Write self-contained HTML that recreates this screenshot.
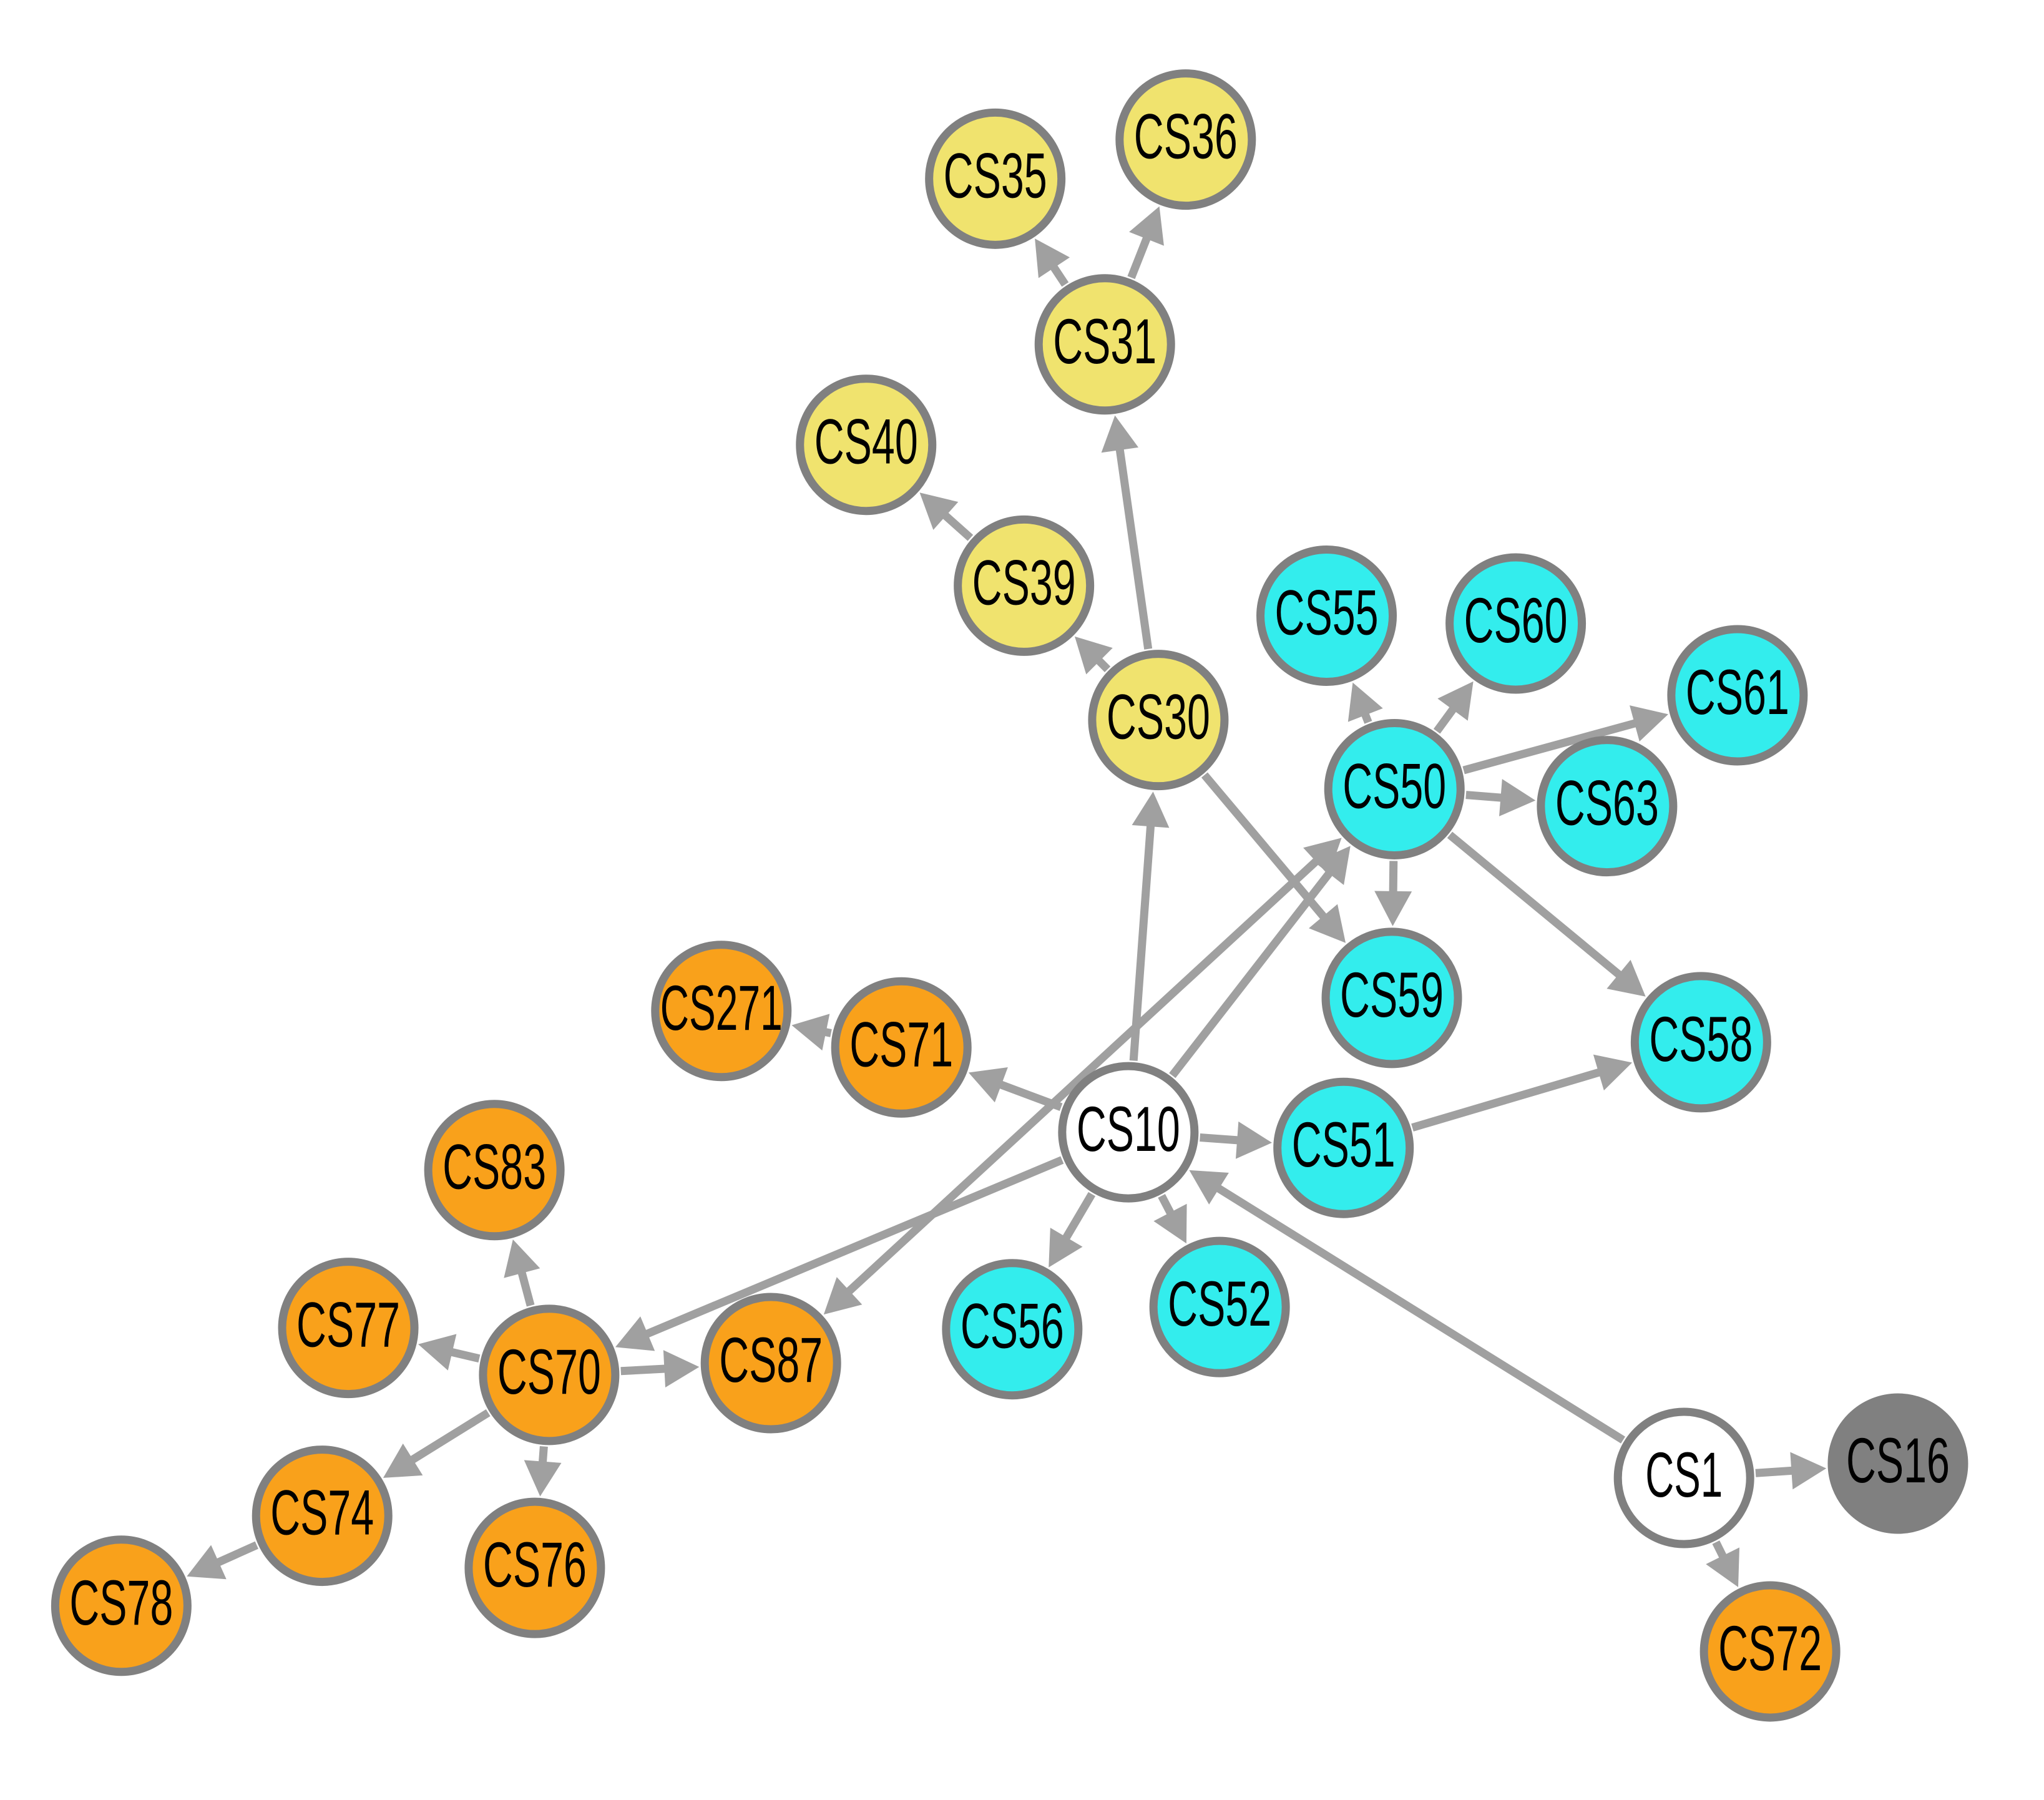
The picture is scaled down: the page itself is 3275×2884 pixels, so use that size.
<!DOCTYPE html>
<html><head><meta charset="utf-8"><style>html,body{margin:0;padding:0;background:#fff}svg{display:block}</style></head>
<body>
<svg id="s" width="3275" height="2884" viewBox="0 0 3275 2884" xmlns="http://www.w3.org/2000/svg"></svg>
<script>
var S=2.09;
var N={
CS35:[763,137,'y'],CS36:[909,107,'y'],CS31:[847,264,'y'],CS40:[664,341,'y'],CS39:[785,449,'y'],CS30:[888,552,'y'],
CS55:[1017,472,'c'],CS60:[1162,478,'c'],CS61:[1332,533,'c'],CS50:[1069,605,'c'],CS63:[1232,618,'c'],CS59:[1067,765,'c'],CS58:[1304,799,'c'],
CS271:[553,775,'o'],CS71:[691,803,'o'],CS10:[865,868,'w'],CS51:[1030,880,'c'],CS83:[379,897,'o'],CS77:[267,1018,'o'],CS70:[421,1054,'o'],
CS87:[591,1045,'o'],CS56:[776,1019,'c'],CS52:[935,1002,'c'],CS74:[247,1162,'o'],CS76:[410,1202,'o'],CS78:[93,1231,'o'],
CS1:[1291,1133,'w'],CS16:[1455,1122,'g'],CS72:[1357,1266,'o']};
var E=[['CS31','CS35'],['CS31','CS36'],['CS30','CS31'],['CS39','CS40'],['CS30','CS39'],['CS10','CS30'],['CS30','CS59'],
['CS50','CS55'],['CS50','CS60'],['CS50','CS61'],['CS50','CS63'],['CS50','CS59'],['CS50','CS58'],['CS10','CS50'],
['CS50','CS87',1],['CS71','CS271'],['CS10','CS71'],['CS10','CS51'],['CS51','CS58'],['CS10','CS56'],['CS10','CS52'],
['CS10','CS70'],['CS1','CS10'],['CS1','CS16'],['CS1','CS72'],['CS70','CS83'],['CS70','CS77'],['CS70','CS87'],
['CS70','CS74'],['CS70','CS76'],['CS74','CS78']];
var C={y:'#f0e36e',c:'#33eded',o:'#f9a11b',w:'#ffffff',g:'#808080'};
var R=113,h='';
function arrow(x,y,ux,uy){var L=56,W=30;var bx=x-ux*L,by=y-uy*L;
return '<polygon points="'+x+','+y+' '+(bx-uy*W)+','+(by+ux*W)+' '+(bx+uy*W)+','+(by-ux*W)+'" fill="#a0a0a0"/>';}
E.forEach(function(e){var a=N[e[0]],b=N[e[1]];var x1=a[0]*S,y1=a[1]*S,x2=b[0]*S,y2=b[1]*S;
var dx=x2-x1,dy=y2-y1,d=Math.hypot(dx,dy),ux=dx/d,uy=dy/d;var r=R+2;
var sx=x1+ux*r,sy=y1+uy*r,tx=x2-ux*r,ty=y2-uy*r;
var ex=tx-ux*50,ey=ty-uy*50,bx=sx,by=sy;if(e[2]){bx=sx+ux*50;by=sy+uy*50;}
h+='<line x1="'+bx+'" y1="'+by+'" x2="'+ex+'" y2="'+ey+'" stroke="#a0a0a0" stroke-width="13"/>';
h+=arrow(tx,ty,ux,uy);if(e[2])h+=arrow(sx,sy,-ux,-uy);});
for(var k in N){var n=N[k],x=n[0]*S,y=n[1]*S;
h+='<circle cx="'+x+'" cy="'+y+'" r="'+(R-7)+'" fill="'+C[n[2]]+'" stroke="#808080" stroke-width="13"/>';
var tl=k.length==5?196:(k.length==3?124:166);
h+='<text x="'+x+'" y="'+(y+30)+'" font-family="Liberation Sans, sans-serif" font-size="102" text-anchor="middle" textLength="'+tl+'" lengthAdjust="spacingAndGlyphs" fill="#000">'+k+'</text>';}
document.getElementById('s').innerHTML=h;
</script>
</body></html>
